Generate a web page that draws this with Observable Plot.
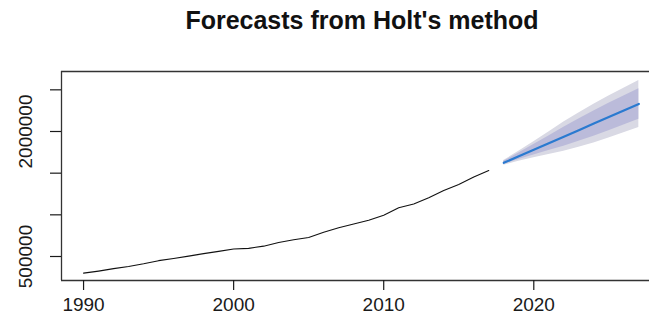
<!DOCTYPE html>
<html><head><meta charset="utf-8">
<script src="https://cdn.jsdelivr.net/npm/d3@7"></script>
<script src="https://cdn.jsdelivr.net/npm/@observablehq/plot@0.6"></script>
<style>
body{margin:0;background:#fff;}
#wrap{position:relative;width:649px;height:331px;overflow:hidden;font-family:"Liberation Sans",Arial,sans-serif;background:#fff;}
#title{position:absolute;left:0;top:8px;width:649px;box-sizing:border-box;padding-left:75px;text-align:center;font-size:25px;line-height:25px;font-weight:bold;color:#111;white-space:nowrap;}
#chart{position:absolute;left:0;top:50px;}
</style></head><body>
<div id="wrap"><div id="title">Forecasts from Holt's method</div><div id="chart"></div></div>
<script>
const histYears = [1990,1991,1992,1993,1994,1995,1996,1997,1998,1999,2000,2001,2002,2003,2004,2005,2006,2007,2008,2009,2010,2011,2012,2013,2014,2015,2016,2017];
const histValues = [300000,325000,354000,380000,412000,450000,476000,505000,534000,562000,590000,598000,624000,668000,700000,728000,790000,845000,890000,935000,995000,1085000,1130000,1205000,1292000,1365000,1455000,1532000];
const fcYears = [2018,2019,2020,2021,2022,2023,2024,2025,2026,2027];
const fcMean = [1624000,1702000,1781000,1859000,1938000,2016000,2095000,2173000,2252000,2330000];
const lo80 = [1606000,1663000,1719000,1771000,1824000,1882000,1943000,2008000,2077000,2146000];
const hi80 = [1642000,1741000,1843000,1947000,2052000,2150000,2247000,2338000,2427000,2514000];
const lo95 = [1596000,1642000,1686000,1724000,1763000,1811000,1863000,1921000,1985000,2048000];
const hi95 = [1652000,1762000,1876000,1994000,2113000,2221000,2327000,2425000,2519000,2612000];
const xTicks = [1990,2000,2010,2020];
const yTicks = [500000,1000000,1500000,2000000,2500000];
const yLabels = [500000,2000000];

const hist = histYears.map((year,i)=>({year, value: histValues[i]}));
const fc = fcYears.map((year,i)=>({year, mean: fcMean[i], lo80: lo80[i], hi80: hi80[i], lo95: lo95[i], hi95: hi95[i]}));
const xDomain = [1988.53, 2027.71];
const yDomain = [212000, 2720000];

const plot = Plot.plot({
  width: 649, height: 281,
  marginLeft: 61, marginRight: 0, marginTop: 21, marginBottom: 51,
  x: {domain: xDomain, label: null},
  y: {domain: yDomain, label: null},
  style: {fontFamily: "'Liberation Sans', Arial, sans-serif", fontSize: "19px", color: "#1a1a1a", background: "#fff"},
  marks: [
    Plot.areaY(fc, {x: "year", y1: "lo95", y2: "hi95", fill: "#D9D9E4"}),
    Plot.areaY(fc, {x: "year", y1: "lo80", y2: "hi80", fill: "#BBBBDA"}),
    Plot.lineY(hist, {x: "year", y: "value", stroke: "#111", strokeWidth: 1.1}),
    Plot.lineY(fc, {x: "year", y: "mean", stroke: "#2a7ad0", strokeWidth: 2.2}),
    Plot.ruleX([xDomain[0]], {stroke: "#333", strokeWidth: 1.3}),
    Plot.ruleY([yDomain[0], yDomain[1]], {stroke: "#333", strokeWidth: 1.3}),
    Plot.axisX({ticks: xTicks, tickSize: 10, tickPadding: 7, tickFormat: d => String(d), label: null, strokeWidth: 1.2, fontSize: 19}),
    Plot.axisY({ticks: yTicks, tickSize: 11, tickFormat: () => "", label: null, strokeWidth: 1.2}),
    Plot.text(yLabels, {y: d => d, text: d => String(d), frameAnchor: "left", dx: -36, rotate: -90, textAnchor: "middle", lineAnchor: "middle", fontSize: 19, fill: "#1a1a1a"})
  ]
});
document.getElementById("chart").appendChild(plot);
</script>
</body></html>
